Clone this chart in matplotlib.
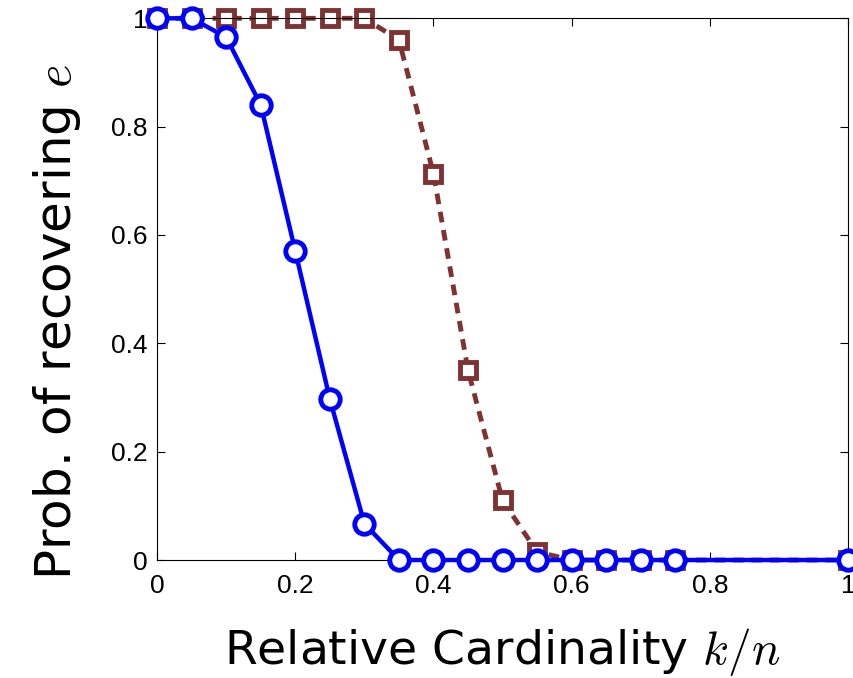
#!/usr/bin/env python3
import matplotlib
matplotlib.use('Agg')
import matplotlib.pyplot as plt

# relative cardinality k/n
x_blue = [0, 0.05, 0.1, 0.15, 0.2, 0.25, 0.3, 0.35, 0.4, 0.45, 0.5, 0.55, 0.6, 0.65, 0.7, 0.75, 1.0]
p_blue = [1, 1, 0.965, 0.84, 0.57, 0.297, 0.067, 0, 0, 0, 0, 0, 0, 0, 0, 0, 0]

x_red = [0, 0.05, 0.1, 0.15, 0.2, 0.25, 0.3, 0.35, 0.4, 0.45, 0.5, 0.55, 0.6, 0.65, 0.7, 0.75, 1.0]
p_red = [1, 1, 1, 1, 1, 1, 1, 0.96, 0.713, 0.35, 0.11, 0.015, 0, 0, 0, 0, 0]

xticks = [0, 0.2, 0.4, 0.6, 0.8, 1]
xtick_labels = ['0', '0.2', '0.4', '0.6', '0.8', '1']
yticks = [0, 0.2, 0.4, 0.6, 0.8, 1]
ytick_labels = ['0', '0.2', '0.4', '0.6', '0.8', '1']

plt.rcParams['mathtext.fontset'] = 'cm'

fig = plt.figure(figsize=(8.54, 6.78), dpi=100)
ax = fig.add_axes([0.184, 0.174, 0.809, 0.799])

ax.plot(x_red, p_red, ls=(0, (2.2, 1.6)), lw=3.5, color='#7f3232',
        marker='s', ms=12, mew=3.5, mfc='white', mec='#7f3232', clip_on=False, zorder=2)
ax.plot(x_blue, p_blue, ls='-', lw=3.2, color='#0000ff',
        marker='o', ms=14, mew=3.5, mfc='white', mec='#0000ff', clip_on=False, zorder=3)

ax.set_xlim(0, 1)
ax.set_ylim(0, 1)
ax.set_xticks(xticks)
ax.set_xticklabels(xtick_labels)
ax.set_yticks(yticks)
ax.set_yticklabels(ytick_labels)
ax.tick_params(direction='in', top=True, right=True, length=6, width=0.8,
               labelsize=19)
ax.tick_params(axis='x', pad=10)
ax.tick_params(axis='y', pad=7)
for lab in ax.get_xticklabels() + ax.get_yticklabels():
    lab.set_family('Liberation Sans')
for s in ax.spines.values():
    s.set_linewidth(0.8)

ax.set_xlabel(r'Relative Cardinality $k/n$', fontsize=34, family='DejaVu Sans', labelpad=20)
ax.set_ylabel(r'Prob. of recovering $e$', fontsize=36, family='DejaVu Sans')
ax.yaxis.set_label_coords(-0.108, 0.44)

fig.savefig('out.png', dpi=100)
